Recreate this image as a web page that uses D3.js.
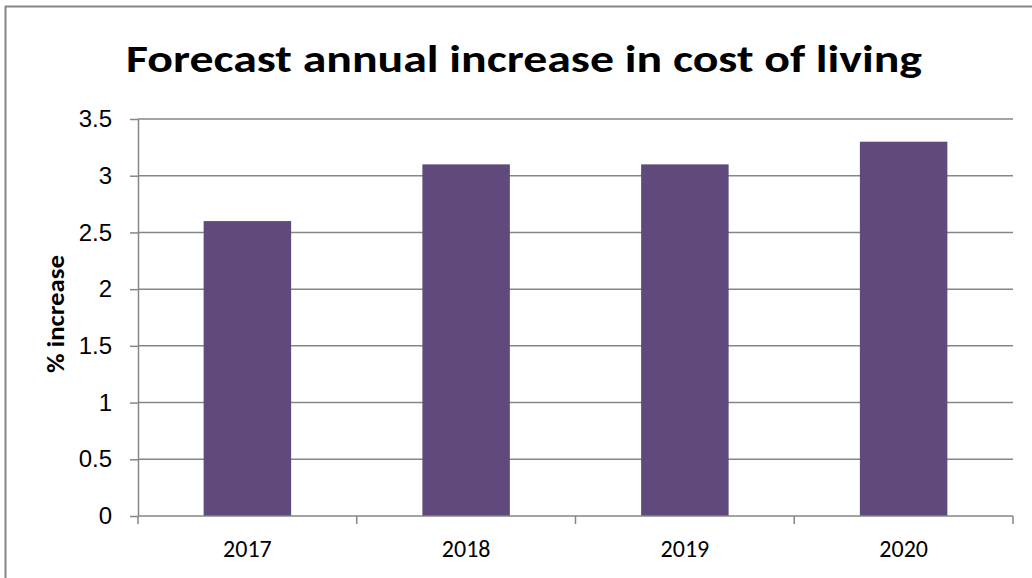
<!DOCTYPE html>
<html>
<head>
<meta charset="utf-8">
<script src="https://cdn.jsdelivr.net/npm/d3@7/dist/d3.min.js"></script>
<style>
body{margin:0;background:#fff;}
svg{display:block;font-family:Carlito,Lato,"Open Sans",sans-serif;}
.grid line{stroke:#868686;stroke-width:1.5;}
.axis path,.axis line{stroke:#868686;stroke-width:1.5;}
.axis text{font-size:24px;fill:#000;}
</style>
</head>
<body>
<svg id="chart" width="1032" height="578"></svg>
<script>
var years = ["2017", "2018", "2019", "2020"];
var increase = [2.6, 3.1, 3.1, 3.3];
var yTicks = [0, 0.5, 1, 1.5, 2, 2.5, 3, 3.5];

var svg = d3.select("#chart");
var plotL = 138, plotR = 1013, plotT = 119, plotB = 516;

// outer frame (right and bottom edges fall outside the picture)
svg.append("rect")
	.attr("x", 5.5).attr("y", 6.5)
	.attr("width", 1040).attr("height", 590)
	.attr("fill", "none").attr("stroke", "#868686").attr("stroke-width", 2);

svg.append("text")
	.attr("x", 524).attr("y", 72)
	.attr("text-anchor", "middle")
	.attr("font-size", 39).attr("font-weight", "bold")
	.attr("textLength", 796).attr("lengthAdjust", "spacingAndGlyphs")
	.text("Forecast annual increase in cost of living");

var x = d3.scaleBand().domain(years).range([plotL, plotR]).padding(0);
var y = d3.scaleLinear().domain([0, 3.5]).range([plotB, plotT]);

// gridlines
svg.append("g").attr("class", "grid")
	.selectAll("line").data(yTicks.slice(1)).enter().append("line")
	.attr("x1", plotL).attr("x2", plotR)
	.attr("y1", function(d){ return y(d); })
	.attr("y2", function(d){ return y(d); });

var barW = x.bandwidth() * 0.4;
svg.append("g").selectAll("rect").data(years).enter().append("rect")
	.attr("x", function(d){ return x(d) + (x.bandwidth() - barW) / 2; })
	.attr("y", function(d, i){ return y(increase[i]); })
	.attr("width", barW)
	.attr("height", function(d, i){ return plotB - y(increase[i]); })
	.attr("fill", "#604a7b");

svg.append("g").attr("class", "axis")
	.attr("transform", "translate(" + plotL + ",0)")
	.call(d3.axisLeft(y).tickValues(yTicks).tickSize(8).tickSizeOuter(0).tickPadding(18)
		.tickFormat(function(d){ return d; }));

// x axis, ticks sit on the band edges
var xAxis = svg.append("g").attr("class", "axis")
	.attr("transform", "translate(0," + plotB + ")");
xAxis.append("line").attr("x1", plotL).attr("x2", plotR).attr("y1", 0).attr("y2", 0);
xAxis.selectAll(".edge").data(d3.range(years.length + 1)).enter().append("line")
	.attr("x1", function(i){ return plotL + i * x.step(); })
	.attr("x2", function(i){ return plotL + i * x.step(); })
	.attr("y1", 0).attr("y2", 8);
xAxis.selectAll(".lbl").data(years).enter().append("text")
	.attr("x", function(d){ return x(d) + x.bandwidth() / 2; })
	.attr("y", 41)
	.attr("text-anchor", "middle")
	.text(function(d){ return d; });

svg.append("text")
	.attr("transform", "translate(64,314) rotate(-90)")
	.attr("text-anchor", "middle")
	.attr("font-size", 24).attr("font-weight", "bold")
	.attr("textLength", 118).attr("lengthAdjust", "spacingAndGlyphs")
	.text("% increase");
</script>
</body>
</html>
